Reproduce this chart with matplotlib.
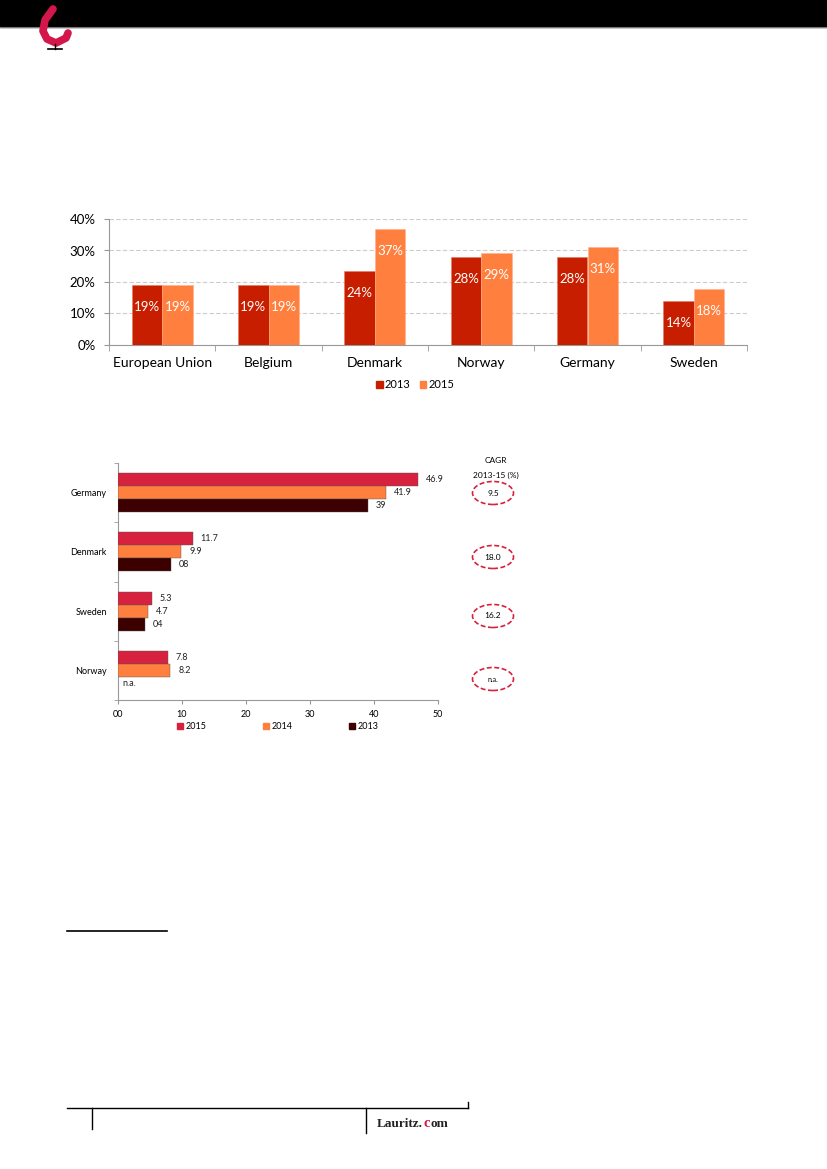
import matplotlib
matplotlib.use("Agg")
import matplotlib.pyplot as plt
import numpy as np
from matplotlib.patches import Rectangle, Ellipse, Patch
from matplotlib.lines import Line2D

plt.rcParams['font.family'] = ['Lato', 'DejaVu Sans']

# --- data: share chart (top) ---
share_countries = ["European Union", "Belgium", "Denmark", "Norway", "Germany", "Sweden"]
share_2013 = [19.0, 19.0, 23.6, 27.9, 27.9, 14.0]
share_2015 = [19.0, 19.0, 36.8, 29.2, 31.2, 17.8]
share_ticks = [0, 10, 20, 30, 40]

# --- data: market chart (bottom), Norway 2013 not available ---
market_countries = ["Germany", "Denmark", "Sweden", "Norway"]
market_2015 = [46.9, 11.7, 5.3, 7.8]
market_2014 = [41.9, 9.9, 4.7, 8.2]
market_2013 = [39.0, 8.3, 4.2, np.nan]
label_2015 = ["46.9", "11.7", "5.3", "7.8"]
label_2014 = ["41.9", "9.9", "4.7", "8.2"]
label_2013 = ["39", "08", "04", "n.a."]
market_ticks = [0, 10, 20, 30, 40, 50]
market_ticklabels = ["00", "10", "20", "30", "40", "50"]
cagr_labels = ["9.5", "18.0", "16.2", "n.a."]

W, H = 827, 1169
fig = plt.figure(figsize=(W / 100, H / 100), dpi=100)


def fx(px):
    return px / W


def fy(py):
    return 1 - py / H


def fig_line(xs, ys, **kw):
    fig.add_artist(Line2D([fx(x) for x in xs], [fy(y) for y in ys], transform=fig.transFigure, **kw))


# header band and chair logo
fig.add_artist(Rectangle((0, fy(27)), 1, 27 / H, transform=fig.transFigure, color='black', zorder=0))
fig_line([0, W], [27, 27], color='#777777', lw=0.8)
fig_line([53, 45, 43, 47, 56, 66, 68], [9, 20, 31, 39, 43, 38, 33], color='#d4174a', lw=5.5,
         solid_capstyle='round', solid_joinstyle='round')
fig_line([55, 55], [44, 49], color='black', lw=1)
fig_line([48, 62], [49, 49], color='black', lw=1.2)

# ---------------- top chart ----------------
c13 = '#c81e00'
c15 = '#ff7f3f'
ax1 = fig.add_axes([fx(109), fy(345), fx(747) - fx(109), (345 - 219) / H])
x = np.arange(len(share_countries))
bw = 0.287
b13 = ax1.bar(x - bw / 2, share_2013, bw, color=c13, edgecolor='#e8795f', linewidth=0.4, zorder=3)
b15 = ax1.bar(x + bw / 2, share_2015, bw, color=c15, edgecolor='#ffb08a', linewidth=0.4, zorder=3)
for bars, vals in ((b13, share_2013), (b15, share_2015)):
    for b, v in zip(bars, vals):
        ax1.annotate(f"{v:.0f}%", (b.get_x() + b.get_width() / 2, v), xytext=(0, -16),
                     textcoords='offset points', ha='center', va='center',
                     color='white', fontsize=9.5, zorder=4)
ax1.set_xlim(-0.5, len(share_countries) - 0.5)
ax1.set_ylim(0, 40)
ax1.set_yticks(share_ticks)
ax1.set_yticklabels([f"{t}%" for t in share_ticks])
ax1.set_xticks(x)
ax1.set_xticklabels(share_countries)
ax1.set_xticks(np.arange(len(share_countries) + 1) - 0.5, minor=True)
ax1.tick_params(axis='x', which='major', length=0, pad=9, labelsize=10)
ax1.tick_params(axis='x', which='minor', length=4, color='#999999', direction='out')
ax1.tick_params(axis='y', length=3.5, pad=6, color='#999999', labelsize=9.5)
ax1.yaxis.grid(True, linestyle=(0, (4, 2)), color='#cccccc', linewidth=0.8, zorder=0)
for s in ('top', 'right'):
    ax1.spines[s].set_visible(False)
for s in ('left', 'bottom'):
    ax1.spines[s].set_color('#999999')
ax1.legend([Patch(color=c13), Patch(color=c15)], ["2013", "2015"], ncol=2, frameon=False,
           loc='center', bbox_to_anchor=(0.48, -0.315), fontsize=8, handlelength=0.6,
           handleheight=0.6, handletextpad=0.2, columnspacing=0.8, borderpad=0)

# ---------------- bottom chart ----------------
m15 = '#d7223f'
m14 = '#ff7f3f'
m13 = '#3c0000'
ax2 = fig.add_axes([fx(118), fy(700), fx(438) - fx(118), (700 - 463) / H])
y = np.arange(len(market_countries))[::-1]
bh = 0.22
series = [(market_2015, label_2015, m15, bh), (market_2014, label_2014, m14, 0), (market_2013, label_2013, m13, -bh)]
for vals, labs, col, off in series:
    ax2.barh(y + off, vals, bh, color=col, edgecolor='#555555', linewidth=0.3, zorder=3)
    for yy, v, lab in zip(y, vals, labs):
        xpos = 0.7 if np.isnan(v) else v + 1.2
        ax2.text(xpos, yy + off, lab, ha='left', va='center', fontsize=6.5, color='#222222')
ax2.set_xlim(0, 50)
ax2.set_ylim(-0.5, len(market_countries) - 0.5)
ax2.set_xticks(market_ticks)
ax2.set_xticklabels(market_ticklabels)
ax2.set_yticks(y)
ax2.set_yticklabels(market_countries)
ax2.set_yticks(np.arange(len(market_countries) + 1) - 0.5, minor=True)
ax2.tick_params(axis='y', which='major', length=0, pad=8, labelsize=6.5)
ax2.tick_params(axis='y', which='minor', length=3, color='#999999')
ax2.tick_params(axis='x', length=3, color='#999999', labelsize=6.5, pad=4)
for s in ('top', 'right'):
    ax2.spines[s].set_visible(False)
for s in ('left', 'bottom'):
    ax2.spines[s].set_color('#999999')
ax2.legend([Patch(color=m15), Patch(color=m14), Patch(color=m13)], ["2015", "2014", "2013"], ncol=3,
           frameon=False, loc='center', bbox_to_anchor=(0.5, -0.112), fontsize=6.5, handlelength=0.7,
           handleheight=0.7, handletextpad=0.3, columnspacing=6.2, borderpad=0)

# CAGR column
fig.text(fx(496), fy(461), "CAGR", ha='center', va='center', fontsize=6)
fig.text(fx(496), fy(475), "2013-15 (%)", ha='center', va='center', fontsize=6)
for lab, py in zip(cagr_labels, [493, 557, 616, 679]):
    fig.add_artist(Ellipse((fx(493), fy(py)), 41 / W, 23 / H, transform=fig.transFigure, fill=False,
                           edgecolor=m15, linestyle=(0, (3, 1.5)), linewidth=1.2))
    fig.text(fx(493), fy(py), lab, ha='center', va='center', fontsize=6 if lab != "n.a." else 5)

# footnote separator
fig_line([67, 167], [931, 931], color='black', lw=1.2)

# footer
fig_line([67, 468], [1108, 1108], color='black', lw=1)
fig_line([92, 92], [1108, 1129], color='black', lw=1)
fig_line([366, 366], [1108, 1133], color='black', lw=1)
fig_line([468, 468], [1108, 1102], color='black', lw=1)

# "Lauritz.com" word mark, pieces chained one after another
renderer = fig.canvas.get_renderer()
xpos = 377
for piece, col, size in (("Lauritz.", '#222222', 9.5), ("c", '#d4174a', 10.5), ("om", '#222222', 9.5)):
    t = fig.text(fx(xpos), fy(1127), piece, ha='left', va='baseline', fontsize=size, fontweight='bold',
                 family='Liberation Serif', color=col)
    xpos += t.get_window_extent(renderer).width + 0.5

fig.savefig("out.png", dpi=100)
